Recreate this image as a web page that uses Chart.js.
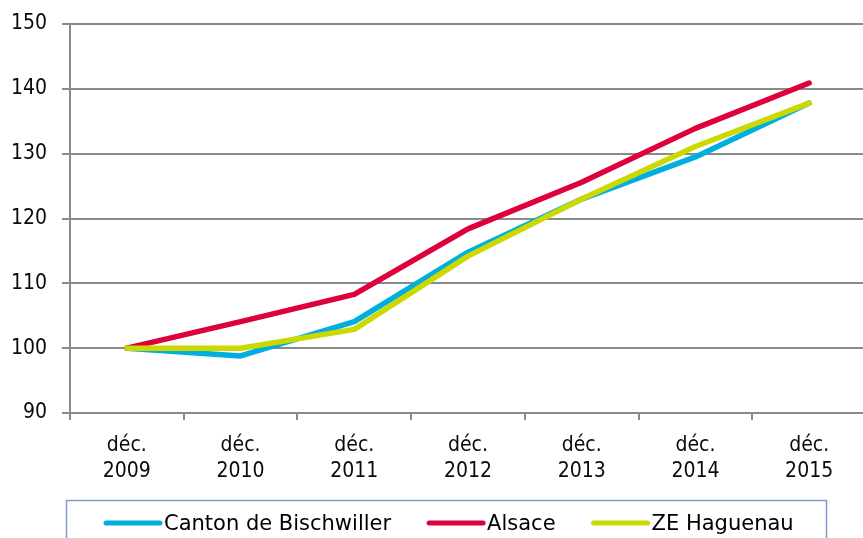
<!DOCTYPE html>
<html>
<head>
<meta charset="utf-8">
<script src="https://cdn.jsdelivr.net/npm/chart.js@4/dist/chart.umd.min.js"></script>
<style>
  html, body { margin: 0; padding: 0; background: #fff; overflow: hidden; }
  #wrap { width: 866px; height: 538px; }
</style>
</head>
<body>
<div id="wrap"><canvas id="evolChart" width="866" height="538"></canvas></div>
<script>
// Data (index, base 100 in Dec. 2009)
const periods = [['déc.', '2009'], ['déc.', '2010'], ['déc.', '2011'], ['déc.', '2012'],
                 ['déc.', '2013'], ['déc.', '2014'], ['déc.', '2015']];
const bischwiller = [100, 98.8, 104.1, 114.8, 123.0, 129.5, 137.8];
const alsace = [100, 104.1, 108.3, 118.4, 125.6, 133.9, 140.9];
const haguenau = [100, 100, 102.9, 114.2, 123.0, 131.1, 137.8];
const yTicks = [90, 100, 110, 120, 130, 140, 150];

const gridGray = '#8a8a8a';
const textColor = '#0a0a0a';
const axisFont = { family: '"DejaVu Sans Condensed", "DejaVu Sans"', size: 21 };

// Legend drawn inside a framed box under the axis, like the original
const boxedLegend = {
    id: 'boxedLegend',
    afterDraw(chart) {
        const c = chart.ctx;
        c.save();
        c.strokeStyle = '#7f9ccc';
        c.lineWidth = 1.5;
        c.strokeRect(66.5, 500.5, 760, 60);

        c.font = '21px "DejaVu Sans"';
        c.textBaseline = 'middle';
        c.fillStyle = '#000';
        let x = 106;
        const y = 523;
        chart.data.datasets.forEach(ds => {
            c.strokeStyle = ds.borderColor;
            c.lineWidth = 5;
            c.lineCap = 'round';
            c.beginPath();
            c.moveTo(x, y);
            c.lineTo(x + 54, y);
            c.stroke();
            x += 58;
            c.fillText(ds.label, x, y + 2);
            x += c.measureText(ds.label).width + 38;
        });
        c.restore();
    }
};

const lineStyle = {
    borderWidth: 5.5,
    pointRadius: 0,
    tension: 0,
    fill: false,
    borderCapStyle: 'round',
    borderJoinStyle: 'round'
};

new Chart(document.getElementById('evolChart'), {
    type: 'line',
    data: {
        labels: periods,
        datasets: [
            { label: 'Canton de Bischwiller', data: bischwiller, borderColor: '#00aee0', order: 3, ...lineStyle },
            { label: 'Alsace', data: alsace, borderColor: '#de003a', order: 2, ...lineStyle },
            { label: 'ZE Haguenau', data: haguenau, borderColor: '#cbd900', order: 1, ...lineStyle }
        ]
    },
    options: {
        responsive: false,
        animation: false,
        layout: { padding: { top: 24, right: 0, left: 0, bottom: 0 } },
        plugins: {
            legend: { display: false },
            tooltip: { enabled: false }
        },
        scales: {
            x: {
                offset: true,
                grid: {
                    offset: true,
                    drawOnChartArea: false,
                    drawTicks: true,
                    tickLength: 7,
                    color: gridGray,
                    lineWidth: 2
                },
                border: { color: gridGray, width: 2 },
                ticks: {
                    color: textColor,
                    font: { ...axisFont, lineHeight: 1.25 },
                    padding: 12,
                    maxRotation: 0,
                    autoSkip: false
                },
                afterFit(scale) {
                    scale.height = 125;
                    scale.paddingLeft = 0;
                    scale.paddingRight = 0;
                }
            },
            y: {
                min: 90,
                max: 150,
                afterBuildTicks(scale) { scale.ticks = yTicks.map(v => ({ value: v })); },
                grid: {
                    color: gridGray,
                    lineWidth: 2,
                    tickLength: 8
                },
                border: { color: gridGray, width: 2 },
                ticks: {
                    color: textColor,
                    font: axisFont,
                    padding: 15
                },
                afterFit(scale) {
                    scale.width = 70;
                    scale.paddingTop = 0;
                    scale.paddingBottom = 0;
                }
            }
        }
    },
    plugins: [boxedLegend]
});
</script>
</body>
</html>
